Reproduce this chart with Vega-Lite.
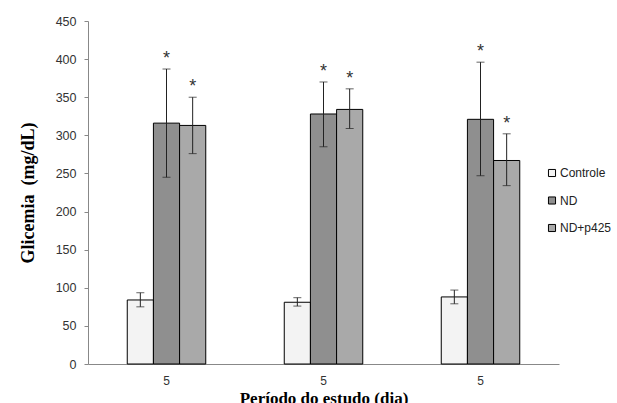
{
  "$schema": "https://vega.github.io/schema/vega-lite/v6.json",
  "width": 471,
  "height": 343,
  "autosize": {"type": "none"},
  "padding": {"left": 88, "top": 21, "right": 58, "bottom": 39},
  "background": "white",
  "config": {
    "view": {"stroke": null},
    "font": "Liberation Sans",
    "axisY": {
      "grid": false,
      "domainColor": "#888888",
      "tickColor": "#888888",
      "tickSize": 4,
      "labelPadding": 8,
      "labelFont": "Liberation Sans",
      "labelFontSize": 12.5,
      "labelColor": "#333333",
      "labelOverlap": false,
      "titleFont": "Liberation Serif",
      "titleFontSize": 18,
      "titleFontWeight": "bold",
      "titleColor": "#000000",
      "titlePadding": 18
    }
  },
  "data": {
    "values": [
      {"grupo": "A", "serie": "Controle", "valor": 84, "lo": 75, "hi": 93.5, "sig": ""},
      {"grupo": "A", "serie": "ND", "valor": 316, "lo": 245, "hi": 387, "sig": "*"},
      {"grupo": "A", "serie": "ND+p425", "valor": 313, "lo": 276, "hi": 350, "sig": "*"},
      {"grupo": "B", "serie": "Controle", "valor": 81, "lo": 76, "hi": 87, "sig": ""},
      {"grupo": "B", "serie": "ND", "valor": 328, "lo": 285, "hi": 370, "sig": "*"},
      {"grupo": "B", "serie": "ND+p425", "valor": 334, "lo": 309, "hi": 361, "sig": "*"},
      {"grupo": "C", "serie": "Controle", "valor": 88, "lo": 79, "hi": 97, "sig": ""},
      {"grupo": "C", "serie": "ND", "valor": 321, "lo": 247, "hi": 396, "sig": "*"},
      {"grupo": "C", "serie": "ND+p425", "valor": 267, "lo": 234, "hi": 302, "sig": "*"}
    ]
  },
  "encoding": {
    "x": {
      "field": "grupo",
      "type": "nominal",
      "sort": ["A", "B", "C"],
      "scale": {"paddingInner": 0.5, "paddingOuter": 0.25},
      "axis": {
        "labelExpr": "'5'",
        "title": "Período do estudo (dia)",
        "labelAngle": 0,
        "ticks": false,
        "domainColor": "#888888",
        "labelFont": "Liberation Sans",
        "labelFontSize": 12,
        "labelColor": "#333333",
        "labelPadding": 11,
        "titleFont": "Liberation Serif",
        "titleFontSize": 17,
        "titleFontWeight": "bold",
        "titleColor": "#000000",
        "titlePadding": 4
      }
    },
    "xOffset": {
      "field": "serie",
      "type": "nominal",
      "sort": ["Controle", "ND", "ND+p425"],
      "scale": {"paddingInner": 0, "paddingOuter": 0}
    }
  },
  "layer": [
    {
      "mark": {"type": "bar", "stroke": "#000000", "strokeWidth": 1},
      "encoding": {
        "y": {
          "field": "valor",
          "type": "quantitative",
          "scale": {"domain": [0, 450], "nice": false},
          "axis": {
            "values": [0, 50, 100, 150, 200, 250, 300, 350, 400, 450],
            "title": "Glicemia\u00a0\u00a0(mg/dL)"
          }
        },
        "fill": {
          "field": "serie",
          "type": "nominal",
          "sort": ["Controle", "ND", "ND+p425"],
          "scale": {"range": ["#f3f3f3", "#8f8f8f", "#a9a9a9"]},
          "legend": {
            "title": null,
            "orient": "none",
            "legendX": 458,
            "legendY": 146,
            "symbolType": "square",
            "symbolSize": 50,
            "symbolStrokeColor": "#000000",
            "symbolStrokeWidth": 1,
            "labelFont": "Liberation Sans",
            "labelFontSize": 12,
            "labelColor": "#222222",
            "labelOffset": 2,
            "rowPadding": 15.5
          }
        }
      }
    },
    {
      "mark": {"type": "rule", "color": "#222222", "strokeWidth": 1},
      "encoding": {
        "y": {"field": "lo", "type": "quantitative", "axis": {"values": [0, 50, 100, 150, 200, 250, 300, 350, 400, 450], "title": "Glicemia\u00a0\u00a0(mg/dL)"}},
        "y2": {"field": "hi"}
      }
    },
    {
      "mark": {"type": "tick", "color": "#222222", "thickness": 1, "size": 8},
      "encoding": {"y": {"field": "lo", "type": "quantitative", "axis": {"values": [0, 50, 100, 150, 200, 250, 300, 350, 400, 450], "title": "Glicemia\u00a0\u00a0(mg/dL)"}}}
    },
    {
      "mark": {"type": "tick", "color": "#222222", "thickness": 1, "size": 8},
      "encoding": {"y": {"field": "hi", "type": "quantitative", "axis": {"values": [0, 50, 100, 150, 200, 250, 300, 350, 400, 450], "title": "Glicemia\u00a0\u00a0(mg/dL)"}}}
    },
    {
      "mark": {"type": "text", "font": "Liberation Sans", "fontSize": 18, "color": "#333333", "baseline": "alphabetic", "dy": -5},
      "encoding": {
        "y": {"field": "hi", "type": "quantitative", "axis": {"values": [0, 50, 100, 150, 200, 250, 300, 350, 400, 450], "title": "Glicemia\u00a0\u00a0(mg/dL)"}},
        "text": {"field": "sig"}
      }
    }
  ]
}
